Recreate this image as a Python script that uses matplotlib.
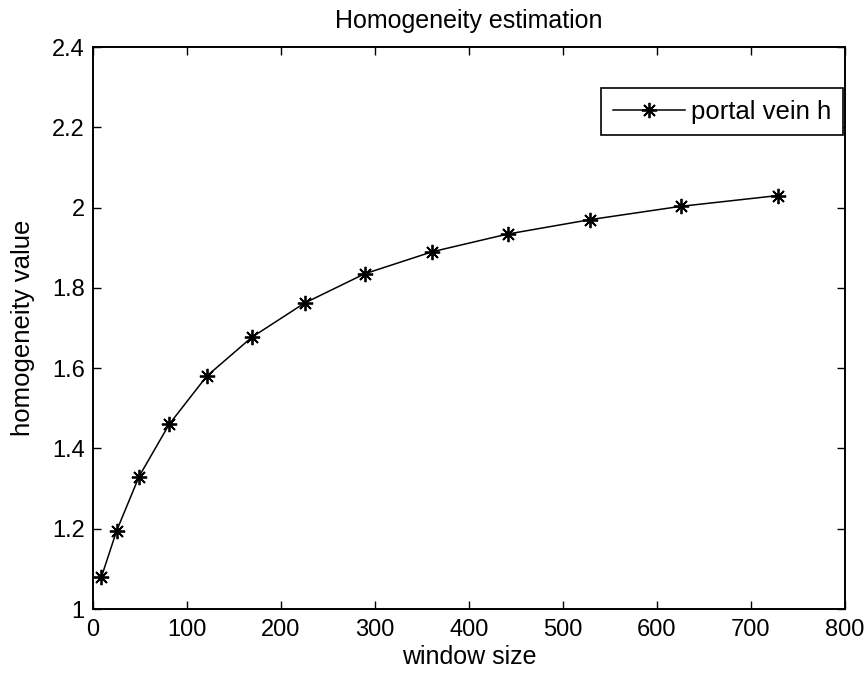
import matplotlib
matplotlib.use("Agg")
import matplotlib.pyplot as plt

window_size = [9, 25, 49, 81, 121, 169, 225, 289, 361, 441, 529, 625, 729]
homogeneity = [1.080, 1.194, 1.330, 1.460, 1.580, 1.677, 1.762, 1.835, 1.890, 1.934, 1.970, 2.003, 2.030]
x_ticks = [0, 100, 200, 300, 400, 500, 600, 700, 800]
y_ticks = [1, 1.2, 1.4, 1.6, 1.8, 2, 2.2, 2.4]
y_tick_labels = ["1", "1.2", "1.4", "1.6", "1.8", "2", "2.2", "2.4"]

plt.rcParams['font.family'] = ['Liberation Sans', 'DejaVu Sans']

fig = plt.figure(figsize=(8.66, 6.77), dpi=100)
ax = fig.add_axes([93/866, 68/677, 752/866, 562/677])

ax.plot(window_size, homogeneity, color='black', linewidth=1.1, marker=(8, 2, 0),
        markersize=11, markeredgewidth=1.3, label='portal vein h')

ax.set_xlim(0, 800)
ax.set_ylim(1, 2.4)
ax.set_xticks(x_ticks)
ax.set_yticks(y_ticks)
ax.set_yticklabels(y_tick_labels)
ax.tick_params(direction='in', length=6, width=1, top=True, right=True,
               labelsize=17)
ax.tick_params(axis='x', pad=7)
ax.tick_params(axis='y', pad=6)
for s in ax.spines.values():
    s.set_linewidth(1.4)

ax.set_title('Homogeneity estimation', fontsize=18, pad=14)
ax.set_xlabel('window size', fontsize=18, labelpad=3)
ax.set_ylabel('homogeneity value', fontsize=18.5, labelpad=12)

leg = ax.legend(loc='upper right', bbox_to_anchor=(0.997, 0.927), borderaxespad=0,
                fontsize=18.5, fancybox=False, edgecolor='black', framealpha=1,
                handlelength=2.8, handletextpad=0.25, borderpad=0.45)
leg.get_frame().set_linewidth(1.2)

fig.savefig('out.png', dpi=100)
